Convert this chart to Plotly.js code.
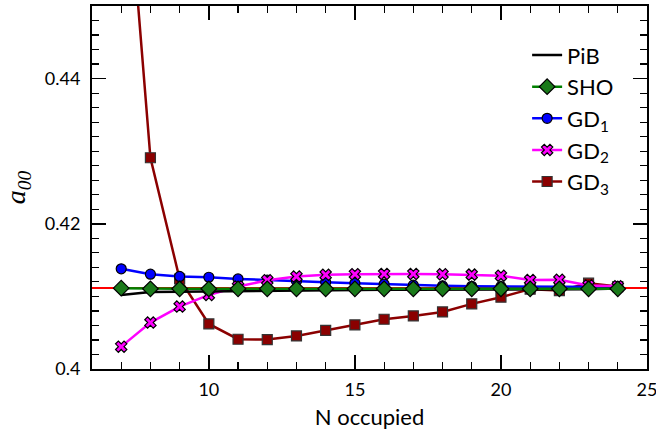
<!DOCTYPE html>
<html>
<head>
<meta charset="utf-8">
<script src="https://cdn.plot.ly/plotly-3.0.1.min.js"></script>
<style>html,body{margin:0;padding:0;background:#fff;}#chart{width:656px;height:436px;}</style>
</head>
<body>
<div id="chart"></div>
<script>
const nOccupied = [7,8,9,10,11,12,13,14,15,16,17,18,19,20,21,22,23,24];
const pib = [0.4102,0.4106,0.41065,0.4107,0.4107,0.41075,0.4108,0.41085,0.41088,0.4109,0.4109,0.4109,0.4109,0.4109,0.41095,0.411,0.411,0.4111];
const sho = [0.41113,0.41105,0.41105,0.41105,0.41105,0.41105,0.41105,0.41105,0.41105,0.41105,0.41105,0.41105,0.41105,0.41105,0.41105,0.41105,0.41105,0.41105];
const gd1 = [0.4138,0.41306,0.41275,0.41264,0.41241,0.41223,0.4121,0.41196,0.41182,0.41168,0.41154,0.41145,0.4114,0.41136,0.41132,0.4113,0.4113,0.4113];
const gd2 = [0.40308,0.40639,0.4086,0.4102,0.41136,0.41222,0.41274,0.41297,0.41306,0.4131,0.4131,0.41305,0.413,0.41285,0.41226,0.41228,0.4115,0.4114];
const gd3 = [0.479,0.4291,0.4124,0.40621,0.4041,0.40405,0.40455,0.40533,0.40607,0.40685,0.40731,0.40786,0.40897,0.40989,0.4110,0.4108,0.41182,0.41136];
const refLevel = 0.41115;
const xTicks = [10,15,20,25];
const yTicks = [0.4,0.42,0.44];
const yTickText = ['0.4','0.42','0.44'];

const lw = 2.5;
const traces = [
  {name:'GD<sub>3</sub>', x:nOccupied, y:gd3, mode:'lines+markers', legendrank:5,
   line:{color:'#8b0000', width:lw}, marker:{symbol:'square', size:10, color:'#8b0000', line:{color:'#333', width:1.2}}},
  {name:'GD<sub>1</sub>', x:nOccupied, y:gd1, mode:'lines+markers', legendrank:3,
   line:{color:'#0000ff', width:lw}, marker:{symbol:'circle', size:10, color:'#0000ff', line:{color:'#000', width:1.2}}},
  {name:'GD<sub>2</sub>', x:nOccupied, y:gd2, mode:'lines+markers', legendrank:4,
   line:{color:'#ff00ff', width:lw}, marker:{symbol:'x', size:10, color:'#ff00ff', line:{color:'#000', width:1.2}}},
  {name:'PiB', x:nOccupied, y:pib, mode:'lines', legendrank:1,
   line:{color:'#000000', width:lw}},
  {name:'SHO', x:nOccupied, y:sho, mode:'lines+markers', legendrank:2,
   line:{color:'#008000', width:lw}, marker:{symbol:'diamond', size:12, color:'#1a7a1a', line:{color:'#000', width:1.2}}}
];

const font = 'Lato, "Open Sans", sans-serif';
const layout = {
  width:656, height:436,
  margin:{l:92, r:9, t:6, b:67},
  paper_bgcolor:'#fff', plot_bgcolor:'#fff',
  showlegend:true,
  legend:{x:0.784, y:0.922, xanchor:'left', yanchor:'top', bgcolor:'rgba(0,0,0,0)',
          font:{family:font, size:22, color:'#000'}, traceorder:'normal'},
  xaxis:{range:[6,25], tickvals:xTicks, ticks:'inside', ticklen:14, tickwidth:1.5, tickcolor:'#000',
         showline:true, linecolor:'#000', linewidth:2, mirror:'ticks', showgrid:false, zeroline:false,
         minor:{dtick:1, ticks:'inside', ticklen:7, tickwidth:1.2, tickcolor:'#000', showgrid:false},
         tickfont:{family:font, size:18, color:'#000'}, ticklabelstandoff:3, ticklabeloverflow:'allow',
         title:{text:'N occupied', font:{family:font, size:22, color:'#000'}, standoff:11}},
  yaxis:{range:[0.4,0.45], tickvals:yTicks, ticktext:yTickText, ticks:'inside', ticklen:14, tickwidth:1.5, tickcolor:'#000',
         showline:true, linecolor:'#000', linewidth:2, mirror:'ticks', showgrid:false, zeroline:false,
         minor:{dtick:0.002, ticks:'inside', ticklen:7, tickwidth:1.2, tickcolor:'#000', showgrid:false},
         tickfont:{family:font, size:18, color:'#000'}, ticklabelstandoff:6, ticklabeloverflow:'allow',
         title:{text:'<i>a</i><sub><i>00</i></sub>', font:{family:'"Liberation Serif", serif', size:28, color:'#000'}, standoff:12}},
  shapes:[{type:'line', xref:'paper', x0:0, x1:1, yref:'y', y0:refLevel, y1:refLevel, layer:'below',
           line:{color:'#ff0000', width:2}}]
};
Plotly.newPlot('chart', traces, layout, {displayModeBar:false, staticPlot:true});
</script>
</body>
</html>
